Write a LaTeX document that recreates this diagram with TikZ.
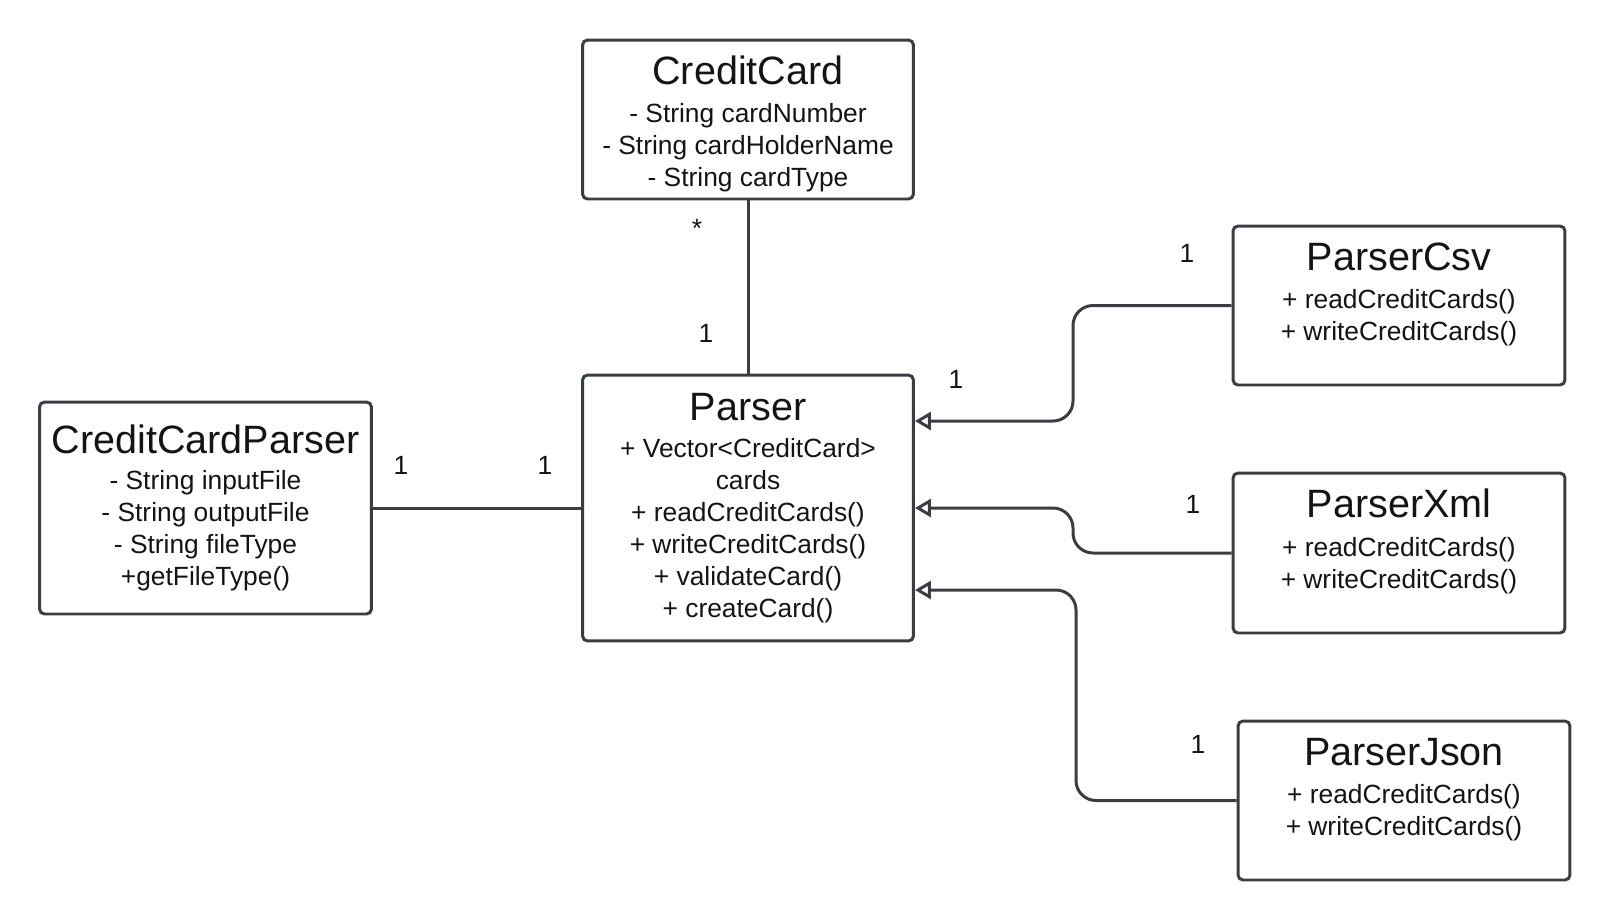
\documentclass[tikz,border=0pt]{standalone}
\usepackage{fontspec}
\setmainfont{Liberation Sans}
\usepackage{tikz}
\usetikzlibrary{arrows.meta,positioning}
\definecolor{lcgray}{RGB}{58,62,68}
\definecolor{lctext}{RGB}{20,20,20}
% #1 top strut, #2 gap below the name, #3 class name
\newcommand{\clsname}[3]{{\rule{0pt}{#1}\fontsize{22.5}{27}\selectfont #3}\\[#2]}
\tikzstyle{umlclass} = [rectangle, rounded corners=0.1cm, minimum width=6.62cm, align=center, draw=lcgray, line width=1.7pt, fill=white, text=lctext, font=\fontsize{15}{18.2}\selectfont]
\tikzstyle{umlsub} = [umlclass, minimum width=6.64cm, minimum height=3.18cm, inner ysep=1pt]
\tikzstyle{assoc} = [line width=1.7pt, draw=lcgray]
\tikzstyle{inherit} = [line width=1.7pt, draw=lcgray, rounded corners=0.4cm, -{Triangle[open, length=0.32cm, width=0.36cm]}]
\tikzstyle{mult} = [text=lctext, font=\fontsize{15}{18}\selectfont]

\begin{document}
\begin{tikzpicture}[x=0.02cm, y=-0.02cm]
\useasboundingbox (0,0) rectangle (1610,921);

% Classes
\node (card) [umlclass, minimum height=3.18cm, inner ysep=1pt] at (748,119.5) {\clsname{21pt}{3.7pt}{CreditCard}- String cardNumber\\- String cardHolderName\\- String cardType};
\node (parser) [umlclass, minimum height=5.32cm] at (748,508) {\clsname{0pt}{2.5pt}{Parser}+ Vector<CreditCard>\\cards\\+ readCreditCards()\\+ writeCreditCards()\\+ validateCard()\\+ createCard()};
\node (ccparser) [umlclass, minimum width=6.64cm, minimum height=4.24cm] at (205.5,508) {\clsname{0pt}{2pt}{CreditCardParser}- String inputFile\\- String outputFile\\- String fileType\\+getFileType()};

% Subclasses
\node (csv) [umlsub] at (1399,305.5) {\clsname{23.5pt}{3.7pt}{ParserCsv}+ readCreditCards()\\+ writeCreditCards()\\\strut};
\node (xml) [umlsub, minimum height=3.2cm] at (1399,553) {\clsname{23.5pt}{3.7pt}{ParserXml}+ readCreditCards()\\+ writeCreditCards()\\\strut};
\node (json) [umlsub] at (1404,800.5) {\clsname{23.5pt}{3.7pt}{ParserJson}+ readCreditCards()\\+ writeCreditCards()\\\strut};

% Associations
\draw[assoc] (card) -- (parser);
\draw[assoc] (ccparser.east) -- (parser.west);

% Inheritance
\coordinate (csvbus) at (1073,421);
\coordinate (xmlbus) at (1073,508);
\coordinate (jsonbus) at (1076,590);
\draw[inherit] (csv.west) -| (csvbus) -- (parser.east |- csvbus);
\draw[inherit] (xml.west) -| (xmlbus) -- (parser.east);
\draw[inherit] (json.west) -| (jsonbus) -- (parser.east |- jsonbus);

% Multiplicities
\node (mcard) [mult] at (697,228) {*};
\node (mparser) [mult] at (706,333) {1};
\node (mccleft) [mult] at (401,465) {1};
\node (mccright) [mult] at (545,465) {1};
\node (mcsvparser) [mult] at (956,379) {1};
\node (mcsv) [mult] at (1187,253) {1};
\node (mxml) [mult] at (1193,504) {1};
\node (mjson) [mult] at (1198,744) {1};
\end{tikzpicture}
\end{document}
